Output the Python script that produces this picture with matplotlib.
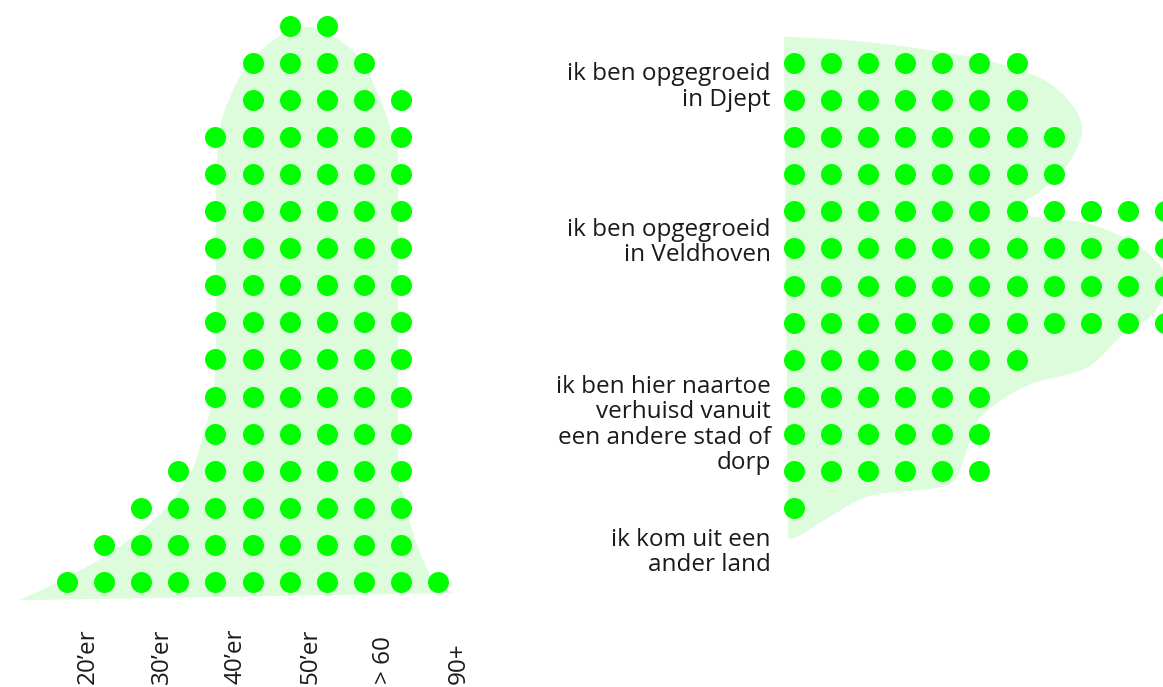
import matplotlib

matplotlib.use("Agg")
import matplotlib.pyplot as plt
import numpy as np

plt.rcParams["font.family"] = ["Open Sans", "DejaVu Sans"]

DOT = "#00ff00"
SHADE = "#dcfcdc"
TEXT = "#1a1a1a"

# leeftijd: aantal stippen per kolom (twee kolommen per groep)
age_labels = ["20’er", "30’er", "40’er", "50’er", "> 60", "90+"]
age_counts = [1, 2, 3, 4, 13, 15, 16, 16, 15, 14, 1]

# herkomst: aantal stippen per rij
origin_labels = [
    "ik ben opgegroeid\nin Djept",
    "ik ben opgegroeid\nin Veldhoven",
    "ik ben hier naartoe\nverhuisd vanuit\neen andere stad of\ndorp",
    "ik kom uit een\nander land",
]
origin_label_rows = [0.55, 4.74, 9.66, 13.09]
origin_counts = [7, 7, 8, 8, 11, 11, 11, 11, 7, 6, 6, 6, 1]

# achtergrondvorm (dichtheid), in kolom/rij-eenheden
age_shape_x = [-1.27, -0.19, 1.16, 2.51, 3.32, 3.67, 3.94, 4.02, 4.02, 4.12, 4.47, 5.01,
               5.82, 6.50, 7.17, 7.90, 8.44, 8.79, 8.92, 8.92, 9.06, 9.33, 9.65, 9.97, 10.46]
age_shape_y = [-0.49, 0.03, 0.78, 1.83, 2.91, 3.96, 5.04, 6.79, 10.30, 12.18, 13.23, 14.10,
               14.77, 14.96, 14.72, 14.10, 13.02, 11.97, 11.21, 3.42, 2.37, 1.32, 0.46, -0.08, -0.30]

origin_shape_x = [-0.27, 1.60, 3.85, 5.63, 6.98, 7.75, 7.44, 6.71, 6.17, 6.00, 6.54, 7.89,
                  9.06, 9.68, 10.05, 9.95, 9.60, 8.79, 7.89, 6.54, 5.63, 4.92, 4.56, 4.29,
                  3.67, 2.05, 0.97, 0.07, -0.16]
origin_shape_y = [-0.71, -0.60, -0.32, 0.05, 0.61, 1.63, 2.64, 3.40, 3.77, 4.09, 4.15, 4.32,
                  4.79, 5.26, 5.80, 6.28, 6.84, 7.39, 8.22, 8.60, 9.06, 9.70, 10.73, 11.29,
                  11.48, 11.67, 12.23, 12.78, 12.78]


def smooth(xs, ys, n=16):
    p = np.column_stack([xs, ys]).astype(float)
    p = np.vstack([p[0], p, p[-1]])
    out = []
    t = np.linspace(0, 1, n, endpoint=False)[:, None]
    for k in range(1, len(p) - 2):
        p0, p1, p2, p3 = p[k - 1], p[k], p[k + 1], p[k + 2]
        seg = 0.5 * (2 * p1 + (-p0 + p2) * t + (2 * p0 - 5 * p1 + 4 * p2 - p3) * t ** 2
                     + (-p0 + 3 * p1 - 3 * p2 + p3) * t ** 3)
        out.append(seg)
    out.append(p[-2][None, :])
    s = np.vstack(out)
    return s[:, 0], s[:, 1]


W, H = 1163, 687
PX = 37.1  # pixels per dot step
FS = 17.5
fig = plt.figure(figsize=(W / 100, H / 100), dpi=100)
ms = (21 * 0.72) ** 2

# --- links: leeftijd ---
x0, y0 = 67, 582  # pixel of first dot
xl = (-1.5, 10.8)
yl = (-0.6, 15.6)
left_px = x0 + xl[0] * PX
right_px = x0 + xl[1] * PX
bot_px = y0 - yl[0] * PX
top_px = y0 - yl[1] * PX
ax1 = fig.add_axes([left_px / W, 1 - bot_px / H, (right_px - left_px) / W, (bot_px - top_px) / H])
ax1.set_xlim(*xl)
ax1.set_ylim(*yl)
ax1.axis("off")

sx, sy = smooth(age_shape_x, age_shape_y)
ax1.fill(sx, sy, color=SHADE, lw=0, zorder=1)
for i, c in enumerate(age_counts):
    ax1.scatter(np.full(c, i), np.arange(c), s=ms, color=DOT, lw=0, zorder=2)
for g, lab in enumerate(age_labels):
    ax1.text(2 * g + 0.55, (y0 - 684) / PX, lab, rotation=90, ha="center", va="bottom",
             fontsize=FS, color=TEXT, clip_on=False)

# --- rechts: herkomst ---
x0, y0 = 794, 63
xl = (-0.5, 10.5)
yl = (13.6, -0.9)
left_px = x0 + xl[0] * PX
right_px = x0 + xl[1] * PX
bot_px = y0 + yl[0] * PX
top_px = y0 + yl[1] * PX
ax2 = fig.add_axes([left_px / W, 1 - bot_px / H, (right_px - left_px) / W, (bot_px - top_px) / H])
ax2.set_xlim(*xl)
ax2.set_ylim(*yl)
for sp in ax2.spines.values():
    sp.set_visible(False)
ax2.set_xticks([])
ax2.set_yticks(origin_label_rows, labels=origin_labels)
ax2.tick_params(axis="y", length=0, pad=3.5, labelsize=FS, labelcolor=TEXT)
for t in ax2.get_yticklabels():
    t.set_multialignment("right")
    t.set_linespacing(1.08)

sx, sy = smooth(origin_shape_x, origin_shape_y)
ax2.fill(sx, sy, color=SHADE, lw=0, zorder=1)
for r, c in enumerate(origin_counts):
    ax2.scatter(np.arange(c), np.full(c, r), s=ms, color=DOT, lw=0, zorder=2, clip_on=False)

fig.savefig("out.png", dpi=100)
